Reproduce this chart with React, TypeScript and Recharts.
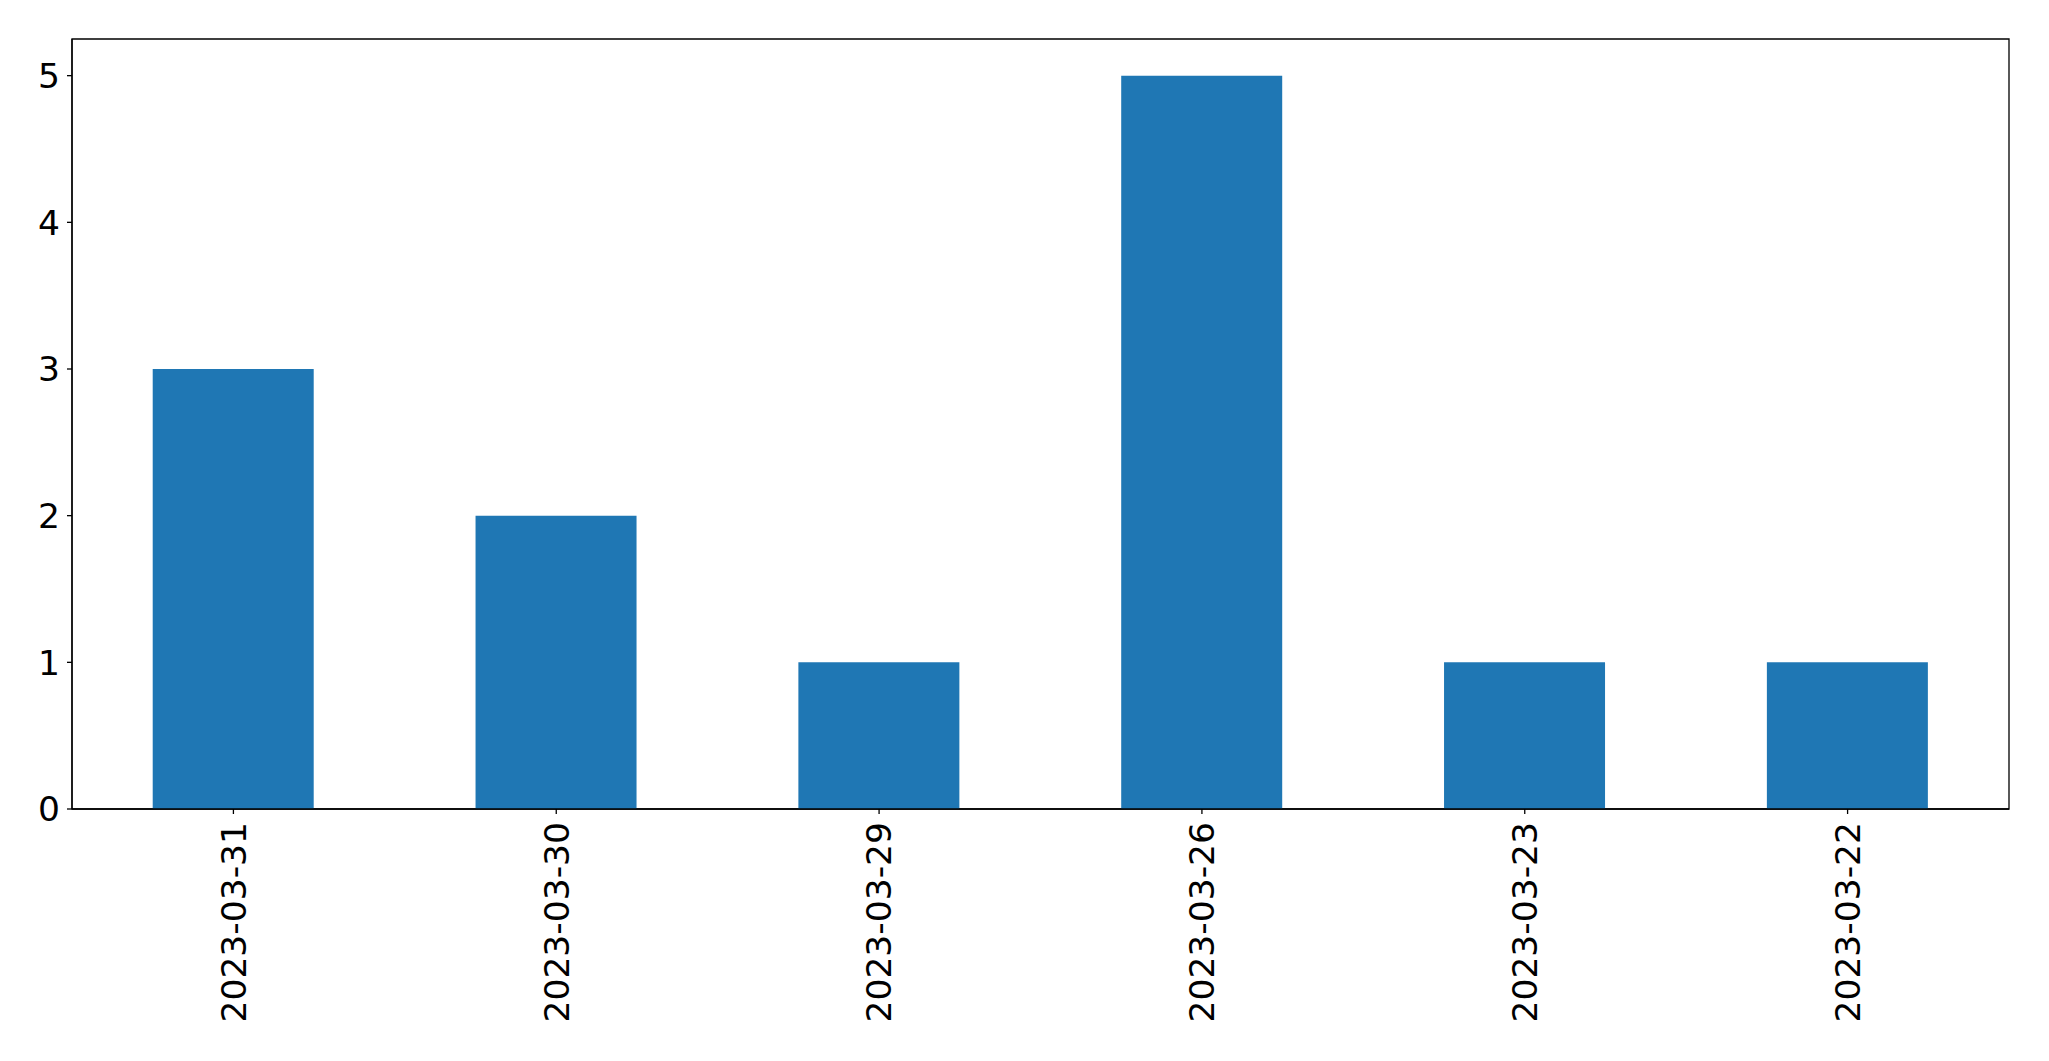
import React from "react";
import { BarChart, Bar, XAxis, YAxis, ReferenceArea } from "recharts";

const categories = ["2023-03-31", "2023-03-30", "2023-03-29", "2023-03-26", "2023-03-23", "2023-03-22"];
const counts = [3, 2, 1, 5, 1, 1];
const yTicks = [0, 1, 2, 3, 4, 5];

const data = categories.map((c, i) => ({ date: c, count: counts[i] }));

const FONT = "'DejaVu Sans', sans-serif";
const FS = 34.5;

const XTick = (props: any) => {
  const { x, y, payload } = props;
  return (
    <text
      x={x}
      y={y}
      transform={`rotate(-90, ${x}, ${y})`}
      textAnchor="end"
      dy="0.36em"
      fontFamily={FONT}
      fontSize={FS}
      fill="#000"
    >
      {payload.value}
    </text>
  );
};

export default function App() {
  return (
    <div style={{ position: "absolute", left: 0, top: 0, background: "#fff" }}>
      <BarChart
        width={2049}
        height={1061}
        data={data}
        margin={{ top: 39, right: 40, left: 0, bottom: 0 }}
        barCategoryGap="25%"
      >
        <XAxis
          dataKey="date"
          height={252}
          tickSize={5}
          tickMargin={8}
          interval={0}
          axisLine={{ stroke: "#000", strokeWidth: 1.3 }}
          tickLine={{ stroke: "#000", strokeWidth: 1.3 }}
          tick={<XTick />}
        />
        <YAxis
          width={72}
          domain={[0, 5.25]}
          ticks={yTicks}
          tickSize={5}
          tickMargin={7}
          interval={0}
          axisLine={{ stroke: "#000", strokeWidth: 1.3 }}
          tickLine={{ stroke: "#000", strokeWidth: 1.3 }}
          tick={{ fontFamily: FONT, fontSize: FS, fill: "#000" }}
        />
        <Bar dataKey="count" fill="#1f77b4" isAnimationActive={false} />
        <ReferenceArea
          y1={0}
          y2={5.25}
          fill="none"
          fillOpacity={0}
          stroke="#000"
          strokeWidth={1.3}
          ifOverflow="visible"
        />
      </BarChart>
    </div>
  );
}
